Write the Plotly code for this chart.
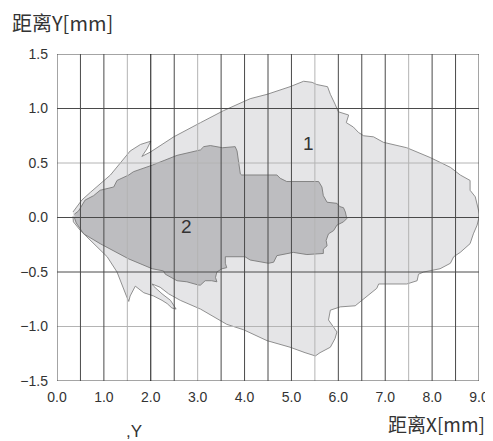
import plotly.graph_objects as go

# ---- data ----
region1_x = [0.34, 0.39, 0.53, 0.71, 0.92, 1.14, 1.35, 1.56, 1.78, 1.92, 2.00, 1.92, 1.81, 1.99, 2.20,
             2.49, 3.06, 3.55, 4.12, 4.48, 4.97, 5.26, 5.44, 5.54, 5.77, 5.83, 5.93, 6.00, 6.22, 6.17,
             6.32, 6.43, 6.54, 6.75, 6.96, 7.46, 7.96, 8.39, 8.60, 8.81, 8.81, 8.92, 9.01, 9.01, 8.96,
             8.88, 8.81, 8.60, 8.46, 8.39, 8.17, 7.82, 7.71, 7.68, 7.46, 6.86, 6.82, 6.54, 6.36, 6.04,
             5.83, 5.79, 5.90, 5.97, 5.93, 5.83, 5.61, 5.51, 5.29, 4.97, 4.48, 3.98, 3.62, 3.06, 2.63,
             2.49, 2.38, 2.20, 2.03, 2.06, 2.24, 2.42, 2.52, 2.54, 2.45, 2.35, 2.24, 2.06, 1.85, 1.67,
             1.56, 1.53, 1.48, 1.42, 1.28, 1.07, 0.78, 0.50, 0.35, 0.34]
region1_y = [0.05, 0.08, 0.16, 0.23, 0.31, 0.39, 0.50, 0.61, 0.67, 0.69, 0.70, 0.63, 0.56, 0.60, 0.66,
             0.74, 0.87, 0.98, 1.09, 1.13, 1.20, 1.25, 1.24, 1.22, 1.20, 1.13, 1.04, 0.97, 0.94, 0.87,
             0.83, 0.78, 0.75, 0.74, 0.69, 0.64, 0.55, 0.46, 0.39, 0.34, 0.25, 0.19, 0.03, 0.02, -0.07,
             -0.15, -0.24, -0.32, -0.36, -0.42, -0.47, -0.50, -0.52, -0.58, -0.61, -0.61, -0.65, -0.75, -0.81, -0.82,
             -0.85, -0.94, -1.01, -1.05, -1.11, -1.19, -1.24, -1.27, -1.24, -1.19, -1.13, -1.03, -0.98, -0.84, -0.76,
             -0.73, -0.70, -0.64, -0.61, -0.63, -0.70, -0.76, -0.82, -0.84, -0.83, -0.79, -0.76, -0.72, -0.69, -0.63,
             -0.72, -0.77, -0.72, -0.65, -0.50, -0.36, -0.24, -0.12, -0.04, 0.01]

region2_x = [0.37, 0.46, 0.60, 0.78, 0.92, 1.21, 1.28, 1.53, 1.63, 2.03, 2.56, 3.06, 3.13, 3.27, 3.53,
             3.80, 3.84, 3.87, 3.91, 3.94, 4.69, 4.76, 4.90, 5.58, 5.65, 5.68, 5.76, 5.97, 6.03, 6.11,
             6.15, 6.18, 6.11, 5.97, 5.90, 5.79, 5.74, 5.76, 5.68, 5.68, 5.33, 5.04, 4.69, 4.62, 4.51,
             4.12, 4.01, 3.59, 3.59, 3.62, 3.52, 3.41, 3.38, 3.41, 3.30, 3.16, 3.06, 3.02, 2.77, 2.56,
             2.31, 2.27, 2.03, 1.53, 0.92, 0.57, 0.41, 0.37]
region2_y = [0.03, 0.06, 0.16, 0.20, 0.25, 0.28, 0.34, 0.39, 0.42, 0.48, 0.57, 0.62, 0.65, 0.66, 0.64,
             0.65, 0.61, 0.52, 0.40, 0.39, 0.39, 0.36, 0.33, 0.33, 0.28, 0.20, 0.14, 0.13, 0.10, 0.09,
             0.05, -0.01, -0.04, -0.07, -0.12, -0.15, -0.21, -0.26, -0.29, -0.33, -0.34, -0.32, -0.35, -0.41, -0.42,
             -0.39, -0.36, -0.36, -0.42, -0.46, -0.47, -0.50, -0.55, -0.59, -0.58, -0.58, -0.62, -0.62, -0.59, -0.58,
             -0.52, -0.49, -0.47, -0.38, -0.24, -0.15, -0.05, 0.00]

x_ticks = [0, 1, 2, 3, 4, 5, 6, 7, 8, 9]
x_tick_labels = ["0.0", "1.0", "2.0", "3.0", "4.0", "5.0", "6.0", "7.0", "8.0", "9.0"]
y_ticks = [-1.5, -1.0, -0.5, 0.0, 0.5, 1.0, 1.5]
y_tick_labels = ["−1.5", "−1.0", "−0.5", "0.0", "0.5", "1.0", "1.5"]
x_grid = [i * 0.5 for i in range(19)]
region_labels = ["1", "2"]
label_x = [5.36, 2.76]
label_y = [0.68, -0.08]

# gridline styling groups
light_x = [1.5, 3.0, 5.5, 7.5]
black_x = [2.0]
light_y = [0.5, -1.0]

X0, X1 = 0, 9
Y0, Y1 = -1.5, 1.5

fig = go.Figure()

fig.add_trace(go.Scatter(x=region1_x, y=region1_y, mode="lines", fill="toself",
                         fillcolor="#e5e5e7", line=dict(color="#858585", width=0.9),
                         hoverinfo="skip", showlegend=False))
fig.add_trace(go.Scatter(x=region2_x, y=region2_y, mode="lines", fill="toself",
                         fillcolor="#bdbdc0", line=dict(color="#7a7a7a", width=0.9),
                         hoverinfo="skip", showlegend=False))


def grid_trace(xs, ys, color, width):
    return go.Scatter(x=xs, y=ys, mode="lines", line=dict(color=color, width=width),
                      hoverinfo="skip", showlegend=False)


def vlines(vals):
    xs, ys = [], []
    for v in vals:
        xs += [v, v, None]
        ys += [Y0, Y1, None]
    return xs, ys


def hlines(vals):
    xs, ys = [], []
    for v in vals:
        xs += [X0, X1, None]
        ys += [v, v, None]
    return xs, ys


dark_v = [v for v in x_grid if v not in light_x and v not in black_x]
light_v = [v for v in x_grid if v in light_x]
dark_h = [v for v in y_ticks if v not in light_y]
light_h = [v for v in y_ticks if v in light_y]

for (xs, ys), col in [(vlines(light_v), "#b4b4b4"), (hlines(light_h), "#b4b4b4"),
                      (vlines(dark_v), "#4a4a4a"), (hlines(dark_h), "#4a4a4a"),
                      (vlines(black_x), "#111111")]:
    fig.add_trace(grid_trace(xs, ys, col, 1))

for t, x, y in zip(region_labels, label_x, label_y):
    fig.add_annotation(x=x, y=y, text=t, showarrow=False,
                       font=dict(size=19, color="#333333", family="Liberation Sans"))

# figure is offset by the page's 8px body margin, so it is 8px smaller on each side
fig.add_annotation(xref="paper", yref="paper", x=-0.111, y=1.0, yshift=32,
                   xanchor="left", yanchor="middle", text="距离Y[mm]", showarrow=False,
                   font=dict(size=20, color="#333333", family="Noto Sans CJK SC"))
fig.add_annotation(xref="paper", yref="paper", x=1.018, y=0, yshift=-42,
                   xanchor="right", yanchor="middle", text="距离X[mm]", showarrow=False,
                   font=dict(size=19, color="#333333", family="Noto Sans CJK SC"))
fig.add_annotation(xref="paper", yref="paper", x=0.158, y=0, yshift=-50,
                   xanchor="left", yanchor="middle", text=",Y", showarrow=False,
                   font=dict(size=17, color="#333333", family="Liberation Sans"))

fig.update_layout(
    width=485, height=433,
    margin=dict(l=49, r=14, t=46, b=60, autoexpand=False),
    paper_bgcolor="white", plot_bgcolor="white",
    xaxis=dict(range=[X0, X1], tickvals=x_ticks, ticktext=x_tick_labels, showgrid=False,
               zeroline=False, showline=False, ticks="", ticklabelstandoff=6, automargin=False,
               tickfont=dict(size=14, color="#333333", family="Liberation Sans")),
    yaxis=dict(range=[Y0, Y1], tickvals=y_ticks, ticktext=y_tick_labels, showgrid=False,
               zeroline=False, showline=False, ticks="", ticklabelstandoff=8, automargin=False,
               tickfont=dict(size=14, color="#333333", family="Liberation Sans")),
)

fig.write_html("out.html")
